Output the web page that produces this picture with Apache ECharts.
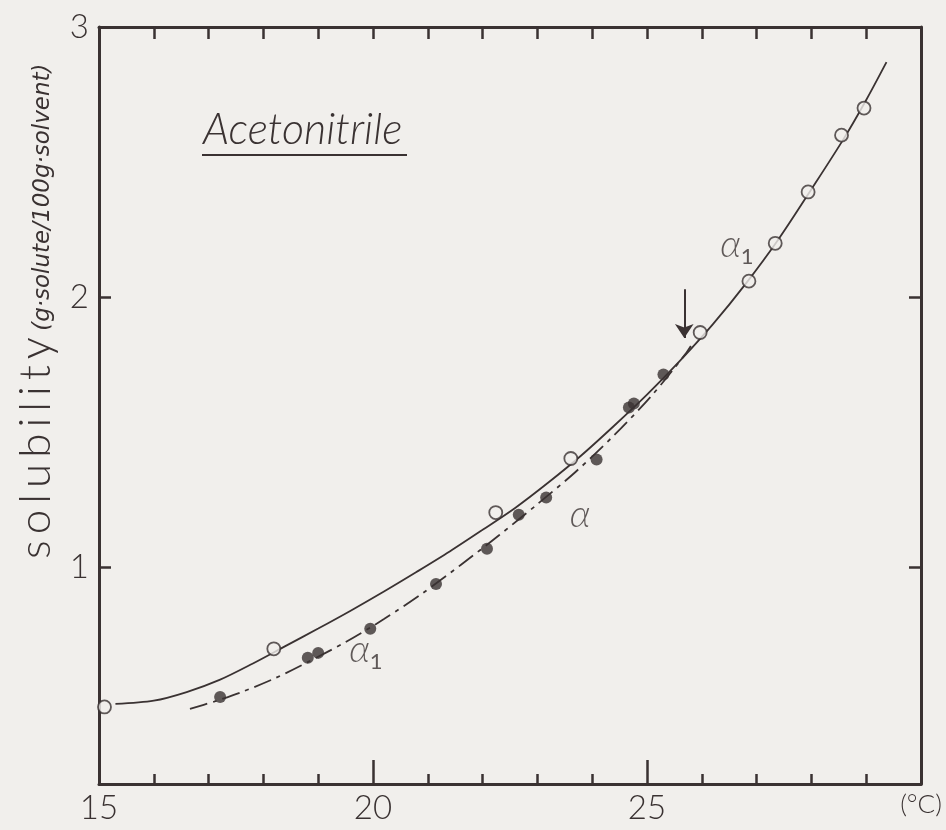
<!DOCTYPE html>
<html>
<head>
<meta charset="utf-8">
<script src="https://cdn.jsdelivr.net/npm/echarts@6/dist/echarts.min.js"></script>
<style>
  html, body { margin: 0; padding: 0; background: #f1efec; }
  #chart { width: 946px; height: 830px; }
</style>
</head>
<body>
<div id="chart"></div>
<script>
// Measured solubility, alpha1 form (open circles)
const alpha1T = [15.1, 18.19, 22.24, 23.61, 25.97, 26.86, 27.34, 27.94, 28.55, 28.96];
const alpha1S = [0.485, 0.70, 1.204, 1.404, 1.87, 2.06, 2.20, 2.39, 2.60, 2.70];

// Measured solubility, alpha form (filled circles)
const alphaT = [17.21, 18.81, 19.0, 19.95, 21.15, 22.08, 22.66, 23.16, 24.08, 24.67, 24.76, 25.30];
const alphaS = [0.522, 0.667, 0.685, 0.774, 0.94, 1.07, 1.196, 1.26, 1.40, 1.593, 1.607, 1.715];

// Solubility curve of alpha1 (solid)
const curveA1T = [15.3, 16.0, 16.6, 17.2, 17.8, 18.4, 19.0, 19.6, 20.2, 20.8, 21.4, 22.0, 22.6, 23.2, 23.8, 24.4, 25.0, 25.6, 26.2, 26.8, 27.4, 28.0, 28.6, 29.0, 29.37];
const curveA1S = [0.496, 0.508, 0.54, 0.585, 0.645, 0.71, 0.775, 0.842, 0.912, 0.985, 1.06, 1.14, 1.222, 1.315, 1.415, 1.525, 1.64, 1.765, 1.90, 2.05, 2.215, 2.40, 2.59, 2.73, 2.87];

// Solubility curve of alpha (dash-dot)
const curveAT = [16.66, 17.1, 17.6, 18.2, 18.8, 19.5, 20.2, 20.9, 21.6, 22.3, 23.0, 23.7, 24.4, 25.1, 25.7, 25.8];
const curveAS = [0.478, 0.505, 0.54, 0.59, 0.65, 0.725, 0.81, 0.905, 1.01, 1.12, 1.235, 1.355, 1.49, 1.64, 1.79, 1.82];

// Axis ranges and ticks
const xMin = 15, xMax = 30;
const yMin = 0.2, yMax = 3;
const yTickValues = [1, 2, 3];
const yRightTickValues = [1, 2];

// Axis titles
const yTitleWord = 'solubility';
const yTitleUnit = '(g·solute/100g·solvent)';
const xUnit = '(°C)';

// Curve annotations
const noteT = [19.87, 23.78, 26.64];
const noteS = [0.695, 1.195, 2.195];
const noteText = ['{a|α}{s|1}', '{a|α}', '{a|α}{s|1}'];

// Transition arrow
const arrowT = 25.68;
const arrowFrom = 2.03;
const arrowTo = 1.85;

const ink = '#3a3232';
const paper = '#f1efec';
const font = 'Lato';

const zip = (xs, ys) => xs.map((x, i) => [x, ys[i]]);

// Stencil-style lettering: every letter of the large word is its own rich token with side padding
const spacedWord = yTitleWord.split('').map(c => '{a|' + c + '}').join('');

const chart = echarts.init(document.getElementById('chart'), null, { renderer: 'canvas' });

const axisLine = { show: true, lineStyle: { color: ink, width: 3 } };

chart.setOption({
  backgroundColor: paper,
  animation: false,
  grid: { left: 99, right: 25, top: 27, bottom: 46 },
  xAxis: [
    {
      type: 'value', min: xMin, max: xMax, interval: 5, position: 'bottom',
      axisLine: axisLine,
      axisTick: { show: true, inside: true, length: 24, lineStyle: { color: ink, width: 2.5 } },
      minorTick: { show: true, splitNumber: 5, length: 10, lineStyle: { color: ink, width: 2.5 } },
      splitLine: { show: false },
      axisLabel: {
        margin: 8, color: ink, fontFamily: font, fontSize: 33, fontWeight: 300,
        formatter: v => (v === xMax ? '{u|' + xUnit + '}' : String(v)),
        rich: { u: { fontFamily: font, fontSize: 26, fontWeight: 300, color: ink } }
      }
    },
    {
      type: 'value', min: xMin, max: xMax, interval: 1, position: 'top',
      axisLine: axisLine,
      axisTick: { show: true, inside: true, length: 12, lineStyle: { color: ink, width: 2.5 } },
      axisLabel: { show: false },
      splitLine: { show: false }
    }
  ],
  yAxis: [
    {
      type: 'value', min: yMin, max: yMax, position: 'left',
      axisLine: axisLine,
      axisTick: { show: true, inside: true, length: 12, customValues: yTickValues, lineStyle: { color: ink, width: 2.5 } },
      axisLabel: { customValues: yTickValues, margin: 10, color: ink, fontFamily: font, fontSize: 33, fontWeight: 300 },
      splitLine: { show: false }
    },
    {
      type: 'value', min: yMin, max: yMax, position: 'right',
      axisLine: axisLine,
      axisTick: { show: true, inside: true, length: 12, customValues: yRightTickValues, lineStyle: { color: ink, width: 2.5 } },
      axisLabel: { show: false },
      splitLine: { show: false }
    }
  ],
  graphic: [
    {
      type: 'text', x: 36, y: 562, rotation: Math.PI / 2,
      style: {
        text: spacedWord + ' {b|' + yTitleUnit + '}',
        align: 'left', verticalAlign: 'middle', fill: ink,
        rich: {
          a: { fontFamily: font, fontSize: 44, fontWeight: 300, fill: ink, verticalAlign: 'bottom', padding: [0, 3, 0, 3] },
          b: { fontFamily: 'DejaVu Sans', fontSize: 23, fontWeight: 400, fontStyle: 'italic', fill: ink, verticalAlign: 'bottom', padding: [0, 0, 3, 0] }
        }
      }
    },
    {
      type: 'text', x: 203, y: 152,
      style: {
        text: 'Acetonitrile', fill: ink, align: 'left', verticalAlign: 'bottom',
        fontFamily: font, fontSize: 43, fontWeight: 300, fontStyle: 'italic'
      }
    },
    {
      type: 'line', shape: { x1: 202, y1: 155, x2: 407, y2: 155 },
      style: { stroke: ink, lineWidth: 2 }
    }
  ],
  series: [
    {
      name: 'alpha1 curve', type: 'line', smooth: 0.3, showSymbol: false,
      data: zip(curveA1T, curveA1S),
      lineStyle: { color: ink, width: 1.8 },
      z: 2,
      markLine: {
        silent: true, symbol: ['none', 'arrow'], symbolSize: 14,
        label: { show: false },
        lineStyle: { color: ink, width: 2, type: 'solid' },
        data: [[{ coord: [arrowT, arrowFrom] }, { coord: [arrowT, arrowTo] }]]
      }
    },
    {
      name: 'alpha curve', type: 'line', smooth: 0.3, showSymbol: false,
      data: zip(curveAT, curveAS),
      lineStyle: { color: ink, width: 1.8, type: [18, 6, 4, 6] },
      z: 2
    },
    {
      name: 'alpha1', type: 'scatter', symbol: 'circle', symbolSize: 13,
      data: zip(alpha1T, alpha1S),
      itemStyle: { color: paper, borderColor: ink, borderWidth: 1.8 },
      z: 4
    },
    {
      name: 'alpha', type: 'scatter', symbol: 'circle', symbolSize: 12,
      data: zip(alphaT, alphaS),
      itemStyle: { color: ink },
      z: 4
    },
    {
      name: 'notes', type: 'scatter', symbolSize: 0, silent: true,
      data: noteT.map((t, i) => ({ value: [t, noteS[i]], text: noteText[i] })),
      label: {
        show: true, position: 'inside',
        formatter: p => p.data.text,
        rich: {
          a: { fontFamily: font, fontSize: 38, fontWeight: 300, fontStyle: 'italic', color: ink, verticalAlign: 'bottom' },
          s: { fontFamily: font, fontSize: 22, fontWeight: 400, color: ink, verticalAlign: 'bottom', padding: [0, 0, -4, 0] }
        }
      },
      z: 5
    }
  ]
});
</script>
</body>
</html>
